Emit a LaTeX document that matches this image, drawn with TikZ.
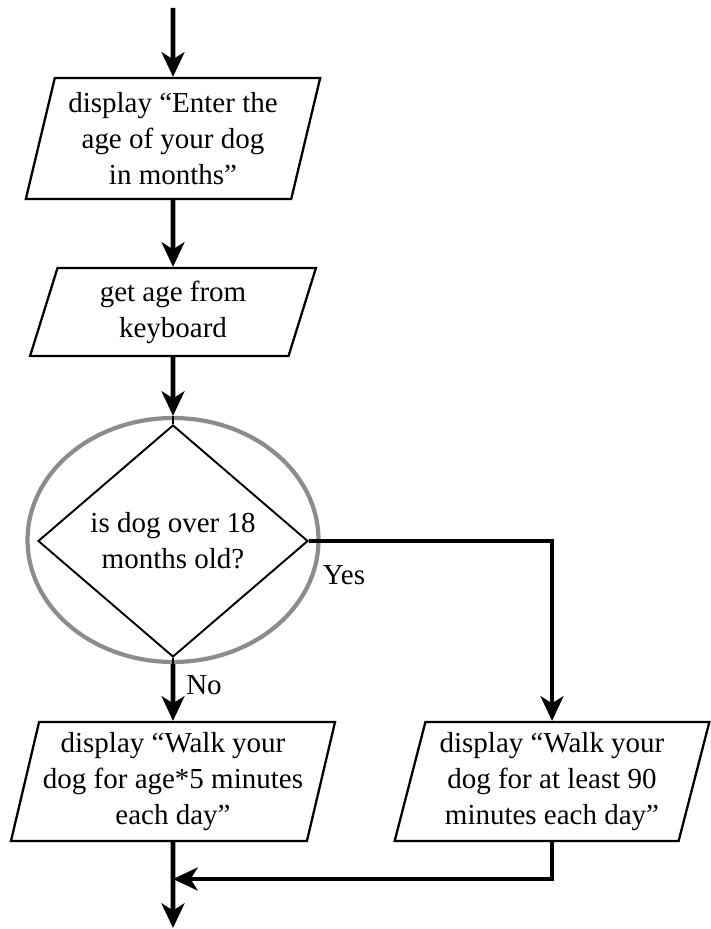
\documentclass[tikz,border=0pt]{standalone}
\usepackage{fontspec}
\setmainfont{Liberation Serif}
\newfontfamily\chartfont{Liberation Serif}
\usetikzlibrary{arrows.meta}
\usetikzlibrary{shapes.geometric}

\definecolor{ringgray}{RGB}{140,140,140}
\tikzset{
  iobox/.style={trapezium, trapezium left angle=74.5, trapezium right angle=105.5,
    trapezium stretches=true, draw, line width=1.3pt, inner sep=0pt, align=center},
  flow/.style={line width=2.8pt, -{Stealth[length=14pt,width=13pt,inset=4pt]}},
  txt/.style={font=\chartfont\fontsize{16.5}{20.5}\selectfont}
}

\begin{document}
\begin{tikzpicture}[x=0.02cm,y=-0.02cm,every node/.style={txt}]
\useasboundingbox (0,0) rectangle (710,929);
\node[iobox, minimum width=5.9cm, minimum height=2.42cm] (askbox) at (173,138.5) {display “Enter the\\age of your dog\\in months”};
\node[iobox, minimum width=5.72cm, minimum height=1.76cm] (getbox) at (173,312) {get age from\\keyboard};
\node[ellipse, draw=ringgray, line width=2.4pt, minimum width=5.82cm, minimum height=4.88cm] (ring) at (173,540) {};
\node[diamond, draw, line width=1.1pt, inner sep=0pt, minimum width=5.4cm, minimum height=4.64cm, align=center] (dec) at (173,541) {is dog over 18\\months old?};
\node[iobox, minimum width=6.5cm, minimum height=2.38cm] (shortbox) at (173,781.5) {display “Walk your\\dog for age*5 minutes\\each day”};
\node[iobox, minimum width=6.3cm, minimum height=2.38cm] (longbox) at (552,781.5) {display “Walk your\\dog for at least 90\\minutes each day”};
\node (yes) at (344,575) {Yes};
\node (no) at (204,685) {No};
\coordinate (start) at (173,8);
\coordinate (join) at (173,879);
\coordinate (end) at (173,928);
\draw[flow] (start) -- (askbox.north);
\draw[flow] (askbox.south) -- (getbox.north);
\draw[flow] (getbox.south) -- (ring.north);
\draw[line width=1.1pt] (ring.north) -- (dec.north) (dec.south) -- (ring.south);
\draw[flow] (ring.south) -- (shortbox.north);
\draw[flow] (dec.east) -| (longbox.north);
\draw[flow] (shortbox.south) -- (end);
\draw[flow] (longbox.south) |- (join);
\end{tikzpicture}
\end{document}
